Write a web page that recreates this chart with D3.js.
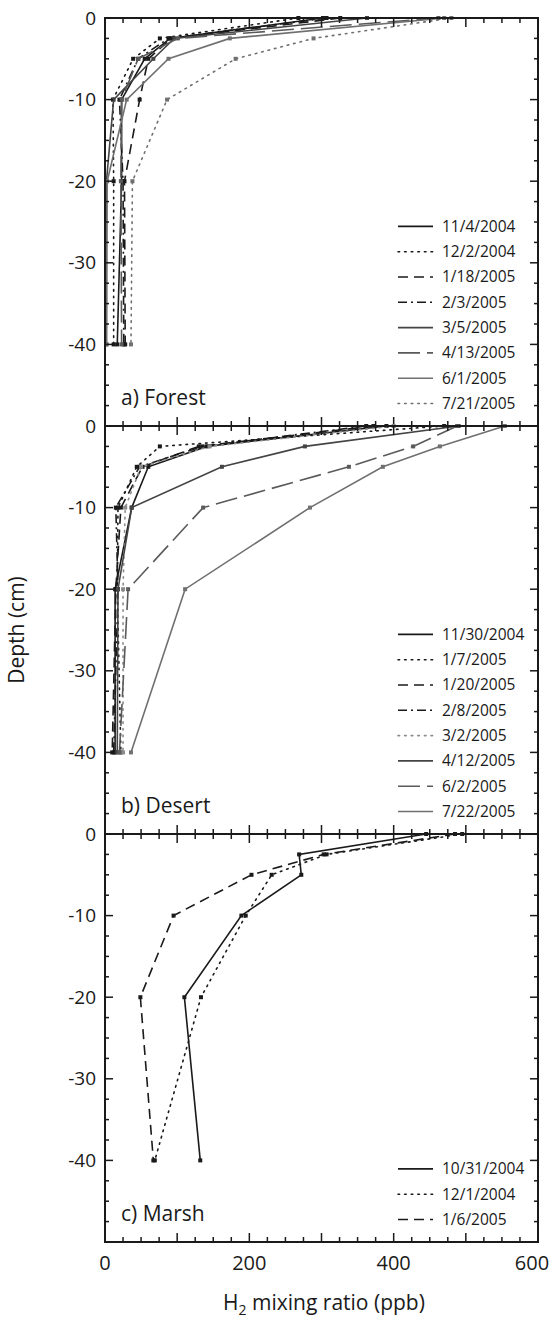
<!DOCTYPE html>
<html><head><meta charset="utf-8">
<script src="https://cdn.jsdelivr.net/npm/d3@7"></script>
<style>body{margin:0;background:#fff} text{font-family:"Open Sans",sans-serif;fill:#1a1a1a}</style>
</head><body><svg id="c" width="553" height="1320"></svg>
<script>
// ---- data ----
const depths = [0, -2.5, -5, -10, -20, -40];
const xTicks = [0, 200, 400, 600];
const yTicks = [0, -10, -20, -30, -40];

const forestDates = ["11/4/2004","12/2/2004","1/18/2005","2/3/2005","3/5/2005","4/13/2005","6/1/2005","7/21/2005"];
const forest1104 = [302, 90, 55, 23, 23, 17];
const forest1202 = [268, 76, 39, 11, 12, 12];
const forest0118 = [326, 92, 60, 48, 27, 28];
const forest0203 = [307, 88, 46, 20, 25, 26];
const forest0305 = [363, 96, 67, 12, 2, 2];
const forest0413 = [462, 101, 46, 23, 22, 23];
const forest0601 = [470, 173, 88, 30, 3, 2];
const forest0721 = [480, 289, 181, 86, 38, 36];

const desertDates = ["11/30/2004","1/7/2005","1/20/2005","2/8/2005","3/2/2005","4/12/2005","6/2/2005","7/22/2005"];
const desert1130 = [390, 141, 60, 37, 14, 14];
const desert0107 = [470, 76, 44, 18, 17, 22];
const desert0120 = [372, 130, 52, 22, 15, 10];
const desert0208 = [362, 135, 48, 15, 18, 12];
const desert0302 = [400, 145, 50, 28, 25, 25];
const desert0412 = [490, 277, 162, 37, 18, 17];
const desert0602 = [488, 427, 338, 136, 32, 20];
const desert0722 = [554, 464, 385, 284, 111, 36];

const marshDates = ["10/31/2004","12/1/2004","1/6/2005"];
const marsh1031 = [445, 269, 272, 189, 110, 132];
const marsh1201 = [495, 307, 231, 195, 133, 69];
const marsh0106 = [485, 303, 203, 95, 49, 67];

// ---- styles (not data) ----
const K="#1a1a1a", G1="#444", G2="#5a5a5a", G3="#707070", G4="#8a8a8a";
const DASH = {solid:null, dot:"1.6,5", dash:"10,6", dashdot:"9,4,2,4", longdash:"22,7"};

const panels = [
  {label:"a) Forest", top:18, dates:forestDates,
   values:[forest1104,forest1202,forest0118,forest0203,forest0305,forest0413,forest0601,forest0721],
   styles:[[K,"solid"],[K,"dot"],[K,"dash"],[K,"dashdot"],[G1,"solid"],[G2,"longdash"],[G3,"solid"],[G3,"dot"]]},
  {label:"b) Desert", top:426, dates:desertDates,
   values:[desert1130,desert0107,desert0120,desert0208,desert0302,desert0412,desert0602,desert0722],
   styles:[[K,"solid"],[K,"dot"],[K,"dash"],[K,"dashdot"],[G4,"dot"],[G1,"solid"],[G2,"longdash"],[G3,"solid"]]},
  {label:"c) Marsh", top:834, dates:marshDates,
   values:[marsh1031,marsh1201,marsh0106],
   styles:[[K,"solid"],[K,"dot"],[K,"dash"]]}
];

const svg = d3.select("#c");
const L = 105, R = 538, H = 408;
const x = d3.scaleLinear().domain([0,600]).range([L,R]);

panels.forEach((p,pi) => {
  const y = d3.scaleLinear().domain([-50,0]).range([p.top+H, p.top]);
  const g = svg.append("g");

  const line = d3.line().x(d=>x(d.v)).y(d=>y(d.d));
  p.values.forEach((vals,i) => {
    const [col,st] = p.styles[i];
    const pts = vals.map((v,j)=>({v, d:depths[j]}));
    g.append("path").attr("d", line(pts)).attr("fill","none")
      .attr("stroke",col).attr("stroke-width",1.6)
      .attr("stroke-dasharray",DASH[st]).attr("stroke-linecap", st==="dot"?"round":"butt");
    g.selectAll(null).data(pts).enter().append("rect")
      .attr("x",d=>x(d.v)-2).attr("y",d=>y(d.d)-2).attr("width",4).attr("height",4)
      .attr("fill",col);
  });

  g.append("rect").attr("x",L).attr("y",p.top).attr("width",R-L).attr("height",H)
    .attr("fill","none").attr("stroke",K).attr("stroke-width",2);

  d3.range(0,-50.01,-2.5).forEach(t => {
    const len = (t % 10 === 0) ? 8 : 4;
    g.append("line").attr("x1",L).attr("x2",L+len).attr("y1",y(t)).attr("y2",y(t)).attr("stroke",K).attr("stroke-width",1.5);
    g.append("line").attr("x1",R).attr("x2",R-len).attr("y1",y(t)).attr("y2",y(t)).attr("stroke",K).attr("stroke-width",1.5);
  });
  d3.range(0,600.01,25).forEach(t => {
    const len = (t % 100 === 0) ? 9 : 5;
    g.append("line").attr("x1",x(t)).attr("x2",x(t)).attr("y1",p.top).attr("y2",p.top+len).attr("stroke",K).attr("stroke-width",1.5);
    g.append("line").attr("x1",x(t)).attr("x2",x(t)).attr("y1",p.top+H).attr("y2",p.top+H-len).attr("stroke",K).attr("stroke-width",1.5);
  });

  g.selectAll(null).data(yTicks).enter().append("text")
    .attr("x",96).attr("y",d=>y(d)).attr("dy","0.35em").attr("text-anchor","end")
    .attr("font-size",19).text(d=>d===0?"0":"-"+Math.abs(d));

  g.append("text").attr("x",121).attr("y",p.top+H-21).attr("font-size",21).text(p.label);

  const n = p.dates.length;
  p.dates.forEach((dt,i) => {
    const cy = p.top + H - 22.5 - (n-1-i)*25.3;
    const [col,st] = p.styles[i];
    g.append("line").attr("x1",398).attr("x2",433).attr("y1",cy).attr("y2",cy)
      .attr("stroke",col).attr("stroke-width",1.6).attr("stroke-dasharray",DASH[st])
      .attr("stroke-linecap", st==="dot"?"round":"butt");
    g.append("text").attr("x",442).attr("y",cy).attr("dy","0.35em").attr("font-size",15.5).text(dt);
  });

  if (pi === panels.length-1) {
    g.selectAll(null).data(xTicks).enter().append("text")
      .attr("x",d=>Math.min(x(d), 532)).attr("y",p.top+H+28).attr("text-anchor","middle")
      .attr("font-size",20).text(d=>d);
  }
});

const xt = svg.append("text").attr("x",324).attr("y",1310).attr("text-anchor","middle").attr("font-size",21);
xt.append("tspan").text("H");
xt.append("tspan").attr("font-size",14).attr("dy",5).text("2");
xt.append("tspan").attr("dy",-5).text(" mixing ratio (ppb)");

svg.append("text").attr("transform","translate(24,630) rotate(-90)").attr("text-anchor","middle")
  .attr("font-size",21).text("Depth (cm)");
</script>
</body></html>
